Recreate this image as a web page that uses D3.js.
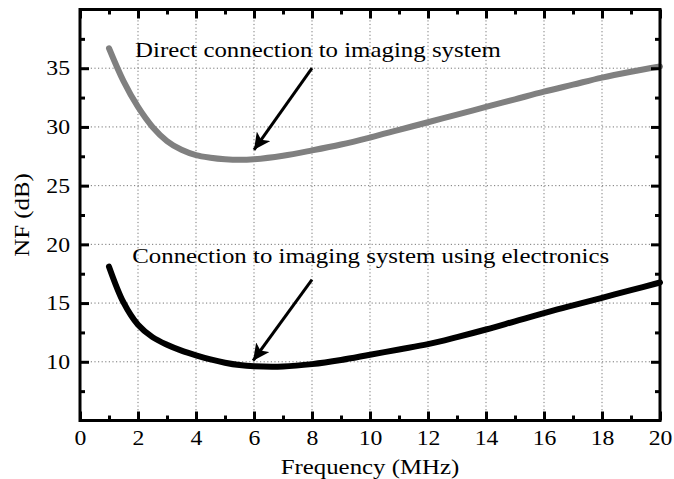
<!DOCTYPE html>
<html><head><meta charset="utf-8">
<script src="https://cdn.jsdelivr.net/npm/d3@7"></script>
<style>
body{margin:0;background:#fff;}
text{font-family:"Liberation Serif","Times New Roman",serif;fill:#000;}
</style></head>
<body>
<svg id="c" width="674" height="479"></svg>
<script>
// Data
const freqGray = [1,1.5,2,2.5,3,3.5,4,4.5,5,5.5,6,7,8,9,10,11,12,13,14,15,16,17,18,19,20];
const nfDirect = [36.7,33.9,31.7,30.0,28.8,28.05,27.6,27.38,27.25,27.2,27.25,27.55,28.0,28.5,29.1,29.75,30.4,31.05,31.7,32.35,33.0,33.6,34.2,34.7,35.15];
const freqBlack = [1,1.5,2,2.5,3,3.5,4,4.5,5,5.5,6,7,8,9,10,11,12,13,14,15,16,17,18,19,20];
const nfElectronics = [18.1,15.05,13.15,12.1,11.45,10.95,10.55,10.2,9.92,9.72,9.62,9.6,9.8,10.15,10.6,11.05,11.5,12.1,12.75,13.45,14.15,14.8,15.45,16.1,16.75];
const xTicks = [0,2,4,6,8,10,12,14,16,18,20];
const yTicks = [10,15,20,25,30,35];
const labels = ["Direct connection to imaging system","Connection to imaging system using electronics"];
const labelPos = [[1.9,35.95],[1.8,18.4]];
const arrowTail = [[8.0,35.0],[8.0,17.0]];
const arrowTip = [[6.0,28.05],[5.97,10.1]];

const svg = d3.select("#c");
const L=80,R=660,T=9.5,B=420.5;
const SX = 1.13; // horizontal stretch of the reference's glyphs
const x = d3.scaleLinear().domain([0,20]).range([L,R]);
const y = d3.scaleLinear().domain([5,40]).range([B,T]);

// grid
const grid = svg.append("g").attr("stroke","#777").attr("stroke-width",1).attr("stroke-dasharray","1.2,2.4");
grid.selectAll("line.v").data(xTicks.filter(d=>d>0&&d<20)).enter().append("line")
  .attr("x1",d=>x(d)).attr("x2",d=>x(d)).attr("y1",T).attr("y2",B);
grid.selectAll("line.h").data(yTicks).enter().append("line")
  .attr("y1",d=>y(d)).attr("y2",d=>y(d)).attr("x1",L).attr("x2",R);

// curves
const line = d3.line().curve(d3.curveCatmullRom.alpha(0.5)).x(d=>x(d[0])).y(d=>y(d[1]));
svg.append("path").datum(freqGray.map((f,i)=>[f,nfDirect[i]])).attr("d",line)
  .attr("fill","none").attr("stroke","#808080").attr("stroke-width",6).attr("stroke-linecap","round");
svg.append("path").datum(freqBlack.map((f,i)=>[f,nfElectronics[i]])).attr("d",line)
  .attr("fill","none").attr("stroke","#000").attr("stroke-width",6).attr("stroke-linecap","round");

// axes
const minorX = d3.range(1,20,2), minorY = d3.range(7.5,40,5);
function styleAxis(g){ g.select(".domain").remove(); g.selectAll(".tick line").attr("stroke","#000").attr("stroke-width",3); }
const fs = 21;
const ax = svg.append("g").attr("transform",`translate(0,${B})`)
  .call(d3.axisBottom(x).tickValues(xTicks).tickSize(-9).tickPadding(10).tickFormat(d3.format("d")));
styleAxis(ax);
ax.selectAll("text").attr("font-size",fs).attr("font-family","Liberation Serif").attr("transform",`scale(${SX},1)`);
const axm = svg.append("g").attr("transform",`translate(0,${B})`).call(d3.axisBottom(x).tickValues(minorX).tickSize(-5).tickFormat(""));
styleAxis(axm);
const at = svg.append("g").attr("transform",`translate(0,${T})`).call(d3.axisTop(x).tickValues(xTicks).tickSize(-9).tickFormat(""));
styleAxis(at);
const atm = svg.append("g").attr("transform",`translate(0,${T})`).call(d3.axisTop(x).tickValues(minorX).tickSize(-5).tickFormat(""));
styleAxis(atm);
const ay = svg.append("g").attr("transform",`translate(${L},0)`)
  .call(d3.axisLeft(y).tickValues(yTicks).tickSize(-9).tickFormat(d3.format("d")));
styleAxis(ay);
ay.selectAll("text").attr("font-size",fs).attr("font-family","Liberation Serif")
  .attr("x",-10/SX).attr("transform",`scale(${SX},1)`);
const aym = svg.append("g").attr("transform",`translate(${L},0)`).call(d3.axisLeft(y).tickValues(minorY).tickSize(-5).tickFormat(""));
styleAxis(aym);
const ar = svg.append("g").attr("transform",`translate(${R},0)`).call(d3.axisRight(y).tickValues(yTicks).tickSize(-9).tickFormat(""));
styleAxis(ar);
const arm = svg.append("g").attr("transform",`translate(${R},0)`).call(d3.axisRight(y).tickValues(minorY).tickSize(-5).tickFormat(""));
styleAxis(arm);

svg.append("rect").attr("x",L).attr("y",T).attr("width",R-L).attr("height",B-T)
  .attr("fill","none").attr("stroke","#000").attr("stroke-width",3);

// annotations
const defs = svg.append("defs");
defs.append("marker").attr("id","ah").attr("viewBox","0 0 10 10").attr("refX",10).attr("refY",5)
  .attr("markerWidth",5.5).attr("markerHeight",5.5).attr("markerUnits","strokeWidth").attr("orient","auto")
  .append("path").attr("d","M0,0 L10,5 L0,10 L2.5,5 Z").attr("fill","#000");
arrowTail.forEach((t,i)=>{
  svg.append("line").attr("x1",x(t[0])).attr("y1",y(t[1])).attr("x2",x(arrowTip[i][0])).attr("y2",y(arrowTip[i][1]))
    .attr("stroke","#000").attr("stroke-width",3).attr("marker-end","url(#ah)");
});
labels.forEach((s,i)=>{
  svg.append("text").attr("transform",`translate(${x(labelPos[i][0])},${y(labelPos[i][1])}) scale(${SX},1)`)
    .attr("font-size",22).text(s);
});

svg.append("text").attr("transform",`translate(${(L+R)/2},474) scale(${SX},1)`).attr("text-anchor","middle").attr("font-size",22).text("Frequency (MHz)");
svg.append("text").attr("transform",`translate(29,${(T+B)/2}) rotate(-90) scale(${SX},1)`).attr("text-anchor","middle").attr("font-size",22).text("NF (dB)");
</script>
</body></html>
